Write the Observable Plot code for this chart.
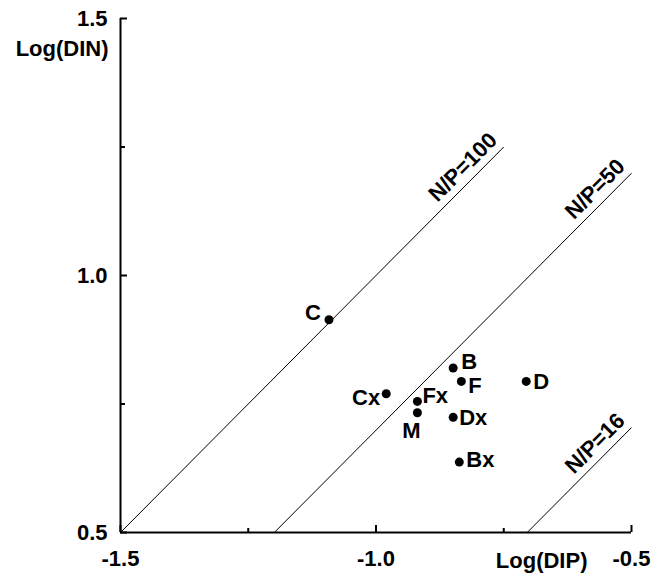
<!DOCTYPE html>
<html><head><meta charset="utf-8">
<script src="https://cdn.jsdelivr.net/npm/d3@7"></script>
<script src="https://cdn.jsdelivr.net/npm/@observablehq/plot@0.6"></script>
<style>
body{margin:0;background:#fff;}
#chart svg{display:block;}
</style></head><body><div id="chart"></div>
<script>
// ---- data ----
const stations = ["C", "B", "F", "D", "Cx", "Fx", "M", "Dx", "Bx"];
const logDIP = [-1.092, -0.849, -0.833, -0.706, -0.980, -0.919, -0.919, -0.849, -0.837];
const logDIN = [0.914, 0.820, 0.794, 0.794, 0.770, 0.755, 0.733, 0.724, 0.637];

const ratios = [100, 50, 16];
const ratioLabels = ["N/P=100", "N/P=50", "N/P=16"];
const ratioLineEndDIP = [-0.75, -0.5, -0.5];

const xTickValues = [-1.5, -1.0, -0.5];
const xMinorTicks = [-1.25, -0.75];
const yTickValues = [0.5, 1.0, 1.5];
const yMinorTicks = [0.75, 1.25];

// ---- build ----
const points = stations.map((s, i) => ({name: s, dip: logDIP[i], din: logDIN[i]}));
const yMin = 0.5;
const lines = ratios.map((r, i) => {
  const k = Math.log10(r);
  return {label: ratioLabels[i], x1: yMin - k, y1: yMin, x2: ratioLineEndDIP[i], y2: ratioLineEndDIP[i] + k};
});

const W = 666, H = 575;
const mL = 120, mR = 35, mT = 18, mB = 43;
const plotW = W - mL - mR, plotH = H - mT - mB;
const font = "'Liberation Sans', Arial, Helvetica, sans-serif";
const fs = 22;
const fw = "bold";

const place = {
  C:  {dx: -8, dy: -7, a: "end"},
  B:  {dx: 8,  dy: -6, a: "start"},
  F:  {dx: 7,  dy: 5,  a: "start"},
  D:  {dx: 7,  dy: 1,  a: "start"},
  Cx: {dx: -6, dy: 4,  a: "end"},
  Fx: {dx: 5,  dy: -5, a: "start"},
  M:  {dx: -6, dy: 18, a: "middle"},
  Dx: {dx: 6,  dy: 1,  a: "start"},
  Bx: {dx: 7,  dy: -2, a: "start"}
};

const labelMarks = points.map(p => Plot.text([p], {
  x: "dip", y: "din", text: "name",
  dx: place[p.name].dx, dy: place[p.name].dy, textAnchor: place[p.name].a,
  fontSize: fs, fontWeight: fw, fill: "black"
}));

const chart = Plot.plot({
  width: W, height: H,
  marginLeft: mL, marginRight: mR, marginTop: mT, marginBottom: mB,
  style: {fontFamily: font, background: "white", color: "black"},
  x: {domain: [-1.5, -0.5]},
  y: {domain: [0.5, 1.5]},
  marks: [
    Plot.axisX({ticks: xTickValues, tickFormat: d => d.toFixed(1), tickSize: 0, tickPadding: 18, fontSize: fs, fontWeight: fw, label: null}),
    Plot.axisY({ticks: yTickValues, tickFormat: d => d.toFixed(1), tickSize: 0, tickPadding: 13, fontSize: fs, fontWeight: fw, label: null}),
    Plot.ruleX([-1.5], {stroke: "black", strokeWidth: 2}),
    Plot.ruleY([0.5], {stroke: "black", strokeWidth: 2}),
    Plot.ruleX(xTickValues, {stroke: "black", strokeWidth: 2, insetTop: plotH - 7}),
    Plot.ruleX(xMinorTicks, {stroke: "black", strokeWidth: 2, insetTop: plotH - 4}),
    Plot.ruleY(yTickValues, {stroke: "black", strokeWidth: 2, insetRight: plotW - 7}),
    Plot.ruleY(yMinorTicks, {stroke: "black", strokeWidth: 2, insetRight: plotW - 5}),
    Plot.link(lines, {x1: "x1", y1: "y1", x2: "x2", y2: "y2", stroke: "black", strokeWidth: 1}),
    Plot.text(lines, {x: "x2", y: "y2", text: "label", rotate: -45.2, textAnchor: "end", lineAnchor: "bottom",
      dx: -5.4, dy: -5.4, fontSize: 22, fontWeight: fw, fill: "black"}),
    Plot.dot(points, {x: "dip", y: "din", r: 4.5, fill: "black", stroke: "none"}),
    ...labelMarks,
    Plot.text(["Log(DIN)"], {frameAnchor: "top-left", text: d => d, dx: -12, dy: 37, textAnchor: "end", lineAnchor: "bottom", fontSize: fs, fontWeight: fw, fill: "black"}),
    Plot.text(["Log(DIP)"], {frameAnchor: "bottom-right", text: d => d, dx: -44, dy: 35, textAnchor: "end", lineAnchor: "bottom", fontSize: fs, fontWeight: fw, fill: "black"})
  ]
});
document.getElementById("chart").appendChild(chart);
</script>
</body></html>
